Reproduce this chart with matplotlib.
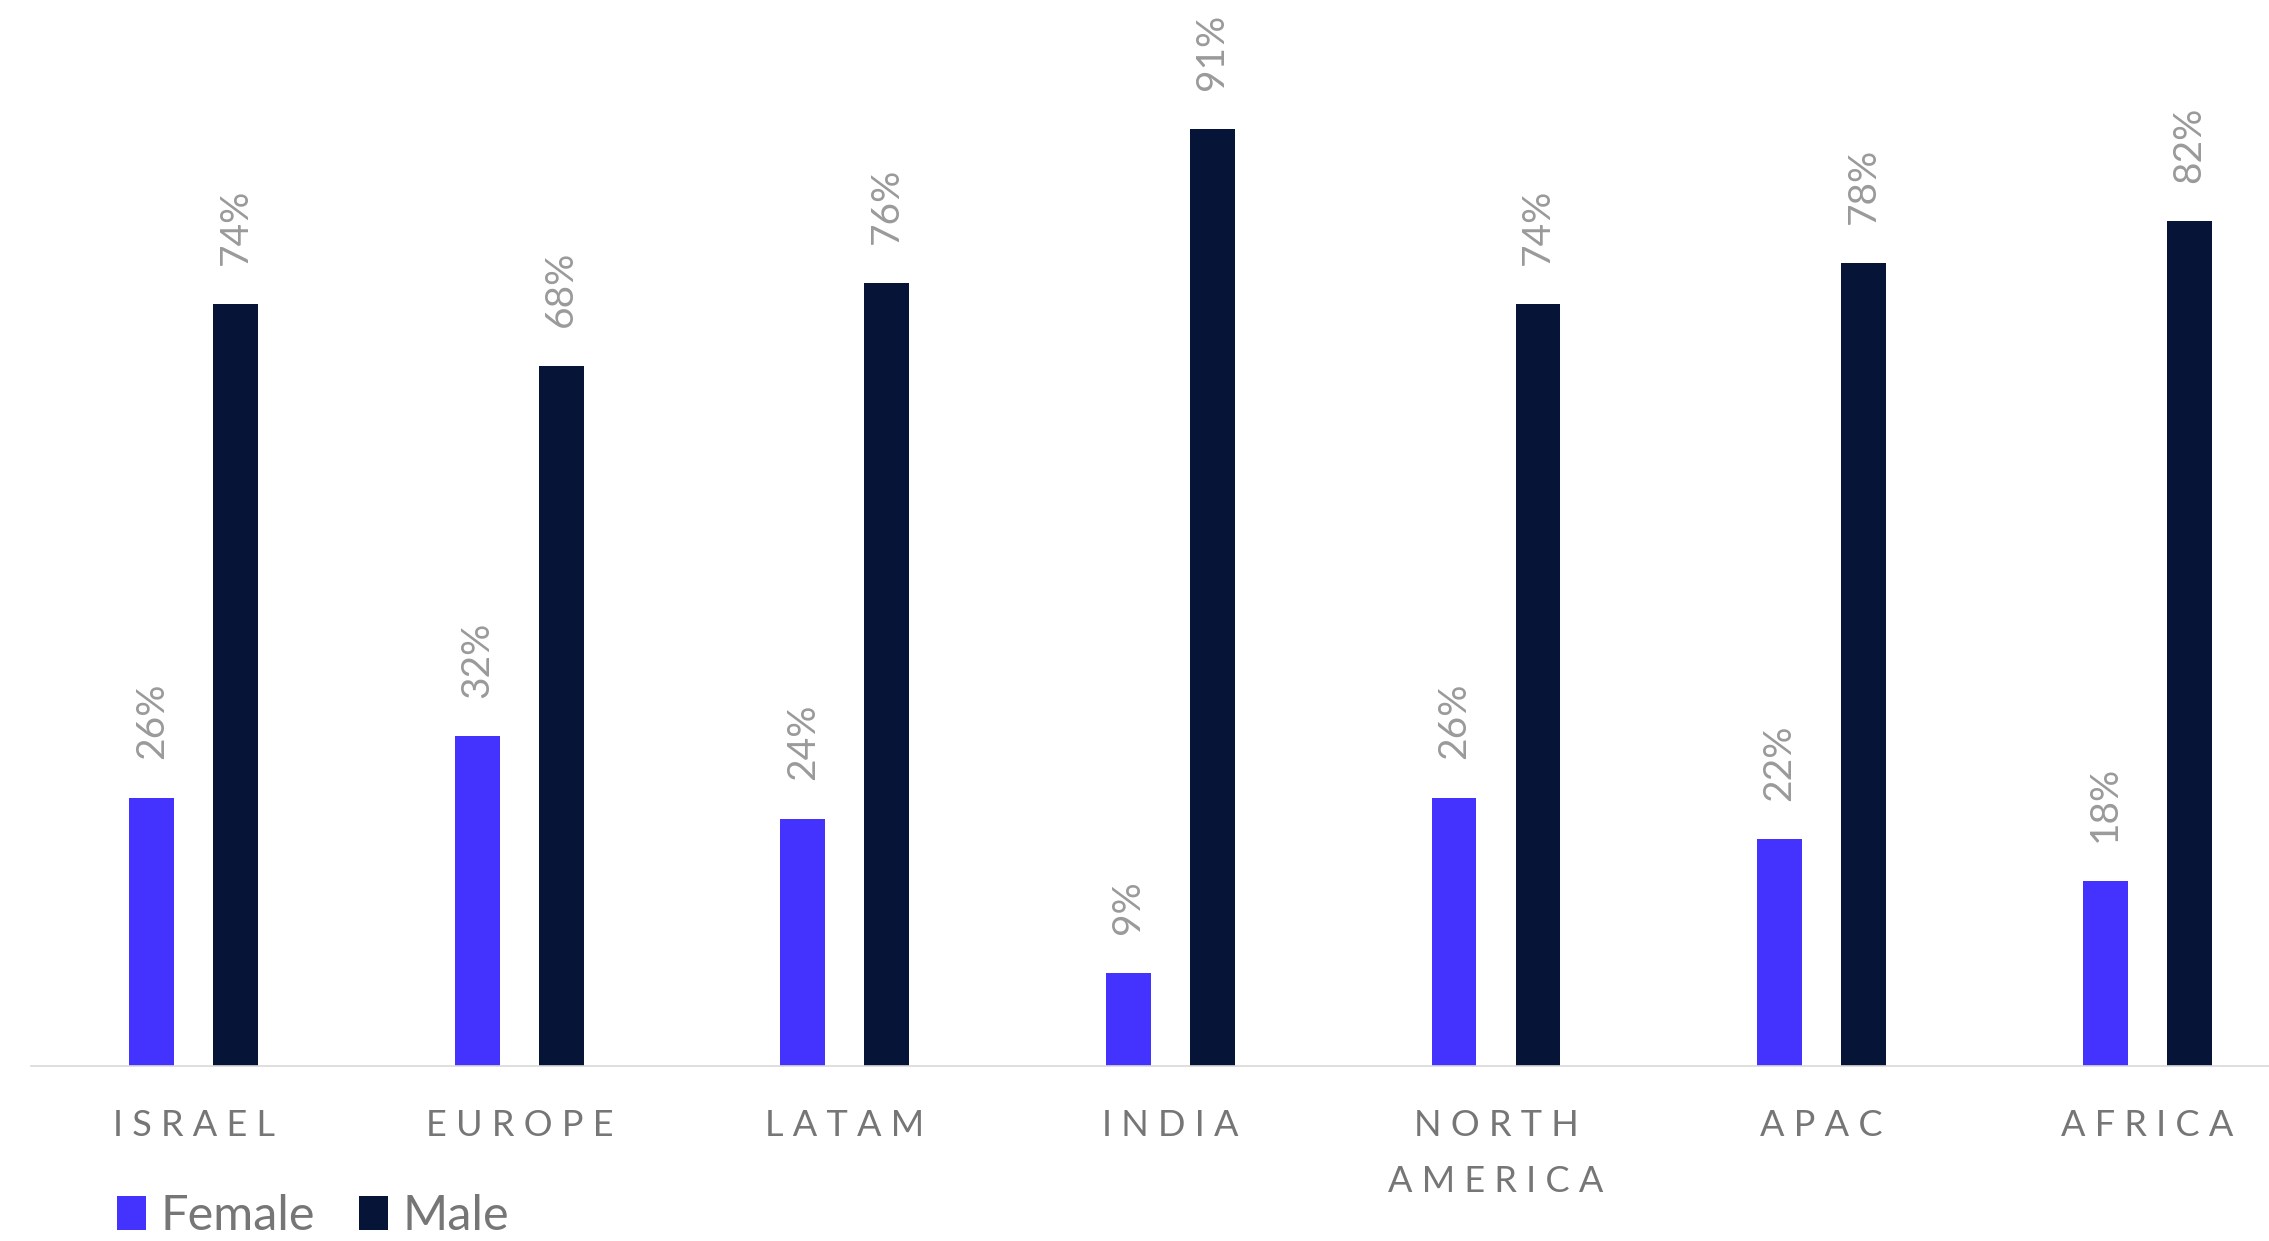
"""
Share of women vs men by region - grouped bars with rotated % labels.
"""

import matplotlib
matplotlib.use("Agg")
import matplotlib.pyplot as plt
import numpy as np

regions = ["ISRAEL", "EUROPE", "LATAM", "INDIA", "NORTH\nAMERICA", "APAC", "AFRICA"]
female = [26, 32, 24, 9, 26, 22, 18]
male = [74, 68, 76, 91, 74, 78, 82]

COLORS = {"female": "#4432FF", "male": "#061437", "label": "#9a9a9a",
          "text": "#767676", "axis": "#d9d9d9"}

plt.rcParams["font.family"] = ["Lato", "DejaVu Sans"]

W, H = 2269, 1241


def _spaced(name: str) -> str:
    """Fake letter-spacing: ISRAEL -> I S R A E L (line by line)."""
    return "\n".join(" ".join(line) for line in name.split("\n"))


fig = plt.figure(figsize=(W / 100, H / 100), dpi=100)
ax = fig.add_axes([31 / W, 175 / H, 1 - 31 / W, (1066 - 36) / H])

x = np.arange(len(regions))
off, bw = 0.129, 0.138
b_f = ax.bar(x - off, female, bw, color=COLORS["female"], label="Female")
b_m = ax.bar(x + off, male, bw, color=COLORS["male"], label="Male")

for bars, vals in ((b_f, female), (b_m, male)):
    for rect, v in zip(bars, vals):
        ax.annotate(f"{v}%", (rect.get_x() + rect.get_width() / 2, v),
                    xytext=(0, 28), textcoords="offset points",
                    rotation=90, ha="center", va="bottom",
                    fontsize=28, color=COLORS["label"])

ax.set_xlim(-0.5, (W - 193.5) / 325.6)
ax.set_ylim(0, 100)
ax.set_xticks(x)
ax.set_xticklabels([_spaced(r) for r in regions], fontsize=26,
                   color=COLORS["text"], linespacing=1.85)
ax.tick_params(axis="x", length=0, pad=31)
ax.set_yticks([])
for s in ("top", "right", "left"):
    ax.spines[s].set_visible(False)
ax.spines["bottom"].set_color(COLORS["axis"])
ax.spines["bottom"].set_linewidth(1.2)

fig.legend(loc="lower left", bbox_to_anchor=(117 / W, 3 / H), ncol=2,
           frameon=False, fontsize=35, labelcolor=COLORS["text"],
           handlelength=0.6, handleheight=0.7, handletextpad=0.3,
           columnspacing=0.9, borderpad=0, borderaxespad=0)

fig.savefig("out.png", dpi=100)
